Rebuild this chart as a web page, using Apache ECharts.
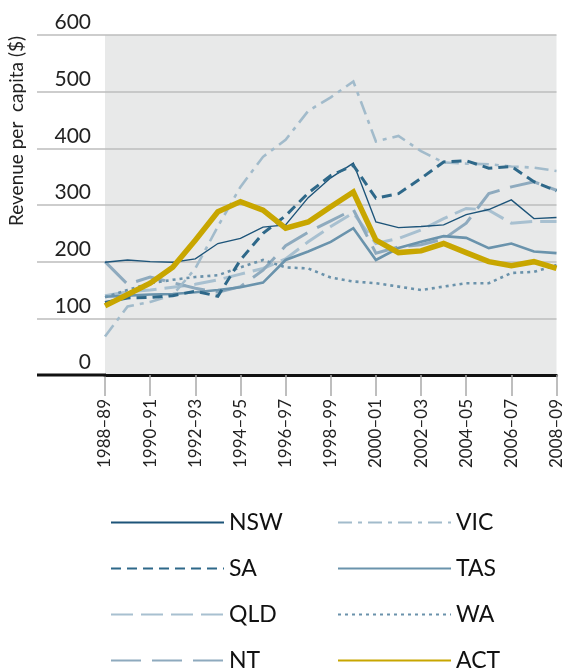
<!DOCTYPE html>
<html>
<head>
<meta charset="utf-8">
<script src="https://cdn.jsdelivr.net/npm/echarts@6/dist/echarts.min.js"></script>
<style>
  html, body { margin: 0; padding: 0; background: #ffffff; }
  #chart { width: 565px; height: 668px; }
</style>
</head>
<body>
<div id="chart"></div>
<script>
// Financial years on the category axis
const years = ['1988–89', '1989–90', '1990–91', '1991–92', '1992–93', '1993–94', '1994–95',
  '1995–96', '1996–97', '1997–98', '1998–99', '1999–00', '2000–01', '2001–02', '2002–03',
  '2003–04', '2004–05', '2005–06', '2006–07', '2007–08', '2008–09'];

// Revenue per capita ($) by state / territory
const nsw = [199, 203, 200, 199, 205, 232, 241, 261, 265, 313, 348, 374, 270, 260, 262, 265, 283, 292, 309, 276, 278];
const vic = [68, 121, 129, 141, 188, 262, 332, 385, 415, 466, 490, 518, 412, 422, 395, 375, 373, 372, 368, 366, 360];
const sa  = [128, 136, 137, 140, 148, 139, 203, 250, 281, 321, 352, 370, 312, 320, 347, 376, 378, 365, 368, 341, 325];
const tas = [138, 140, 142, 143, 146, 150, 155, 163, 203, 218, 235, 259, 203, 224, 235, 245, 242, 224, 232, 218, 215];
const qld = [140, 147, 150, 155, 160, 168, 178, 188, 205, 235, 262, 286, 232, 241, 256, 276, 294, 291, 268, 271, 271];
const wa  = [137, 150, 162, 168, 173, 176, 190, 203, 190, 188, 172, 165, 162, 156, 150, 156, 162, 162, 180, 182, 194];
const nt  = [200, 160, 173, 163, 153, 146, 156, 185, 228, 252, 272, 292, 215, 226, 230, 240, 268, 320, 332, 341, 326];
const act = [122, 142, 162, 190, 238, 288, 306, 291, 259, 270, 297, 323, 238, 216, 219, 232, 216, 200, 193, 200, 188];

// y-axis tick values
const yTicks = { min: 0, max: 600, step: 100 };

const FONT = 'Lato';
const chart = echarts.init(document.getElementById('chart'));

function line(name, data, color, width, type, z) {
  return {
    name: name,
    type: 'line',
    data: data,
    symbol: 'none',
    smooth: false,
    z: z || 2,
    lineStyle: { color: color, width: width, type: type, cap: 'butt', join: 'miter' },
    itemStyle: { color: color },
    emphasis: { disabled: true }
  };
}

const legendText = { fontFamily: FONT, fontSize: 23, lineHeight: 22, color: '#111' };
const legendBase = {
  orient: 'vertical',
  top: 506,
  height: 170,
  itemWidth: 113,
  itemHeight: 22,
  itemGap: 23,
  selectedMode: false,
  itemStyle: { opacity: 0 },
  textStyle: legendText
};

const titleText = {
  type: 'text',
  x: 17, y: 131,
  rotation: Math.PI / 2,
  style: {
    text: 'Revenue per  capita ($)',
    font: '19px ' + FONT,
    fill: '#222',
    align: 'center',
    verticalAlign: 'middle'
  }
};

const option = {
  animation: false,
  backgroundColor: '#ffffff',
  textStyle: { fontFamily: FONT },
  grid: {
    left: 105, right: 6, top: 35, bottom: 293,
    show: true, backgroundColor: '#e8e9e9', borderWidth: 0
  },
  legend: [
    Object.assign({}, legendBase, { left: 105, data: ['NSW', 'SA', 'QLD', 'NT'] }),
    Object.assign({}, legendBase, { left: 332, data: ['VIC', 'TAS', 'WA', 'ACT'] })
  ],
  xAxis: {
    type: 'category',
    data: years,
    boundaryGap: false,
    axisLine: { lineStyle: { color: '#111', width: 3 } },
    axisTick: { interval: 1, length: 21, lineStyle: { color: '#a9a9a9', width: 1.5 } },
    axisLabel: { interval: 1, rotate: 90, fontSize: 17, margin: 24, color: '#222', fontFamily: FONT },
    splitLine: { show: false }
  },
  yAxis: {
    type: 'value',
    min: yTicks.min, max: yTicks.max, interval: yTicks.step,
    axisLine: { show: false },
    axisTick: { show: true, length: 68, lineStyle: { color: '#bdbdbd', width: 1.5 } },
    axisLabel: { fontSize: 21, color: '#222', fontFamily: FONT, verticalAlign: 'bottom', margin: 14, padding: [0, 0, 2, 0] },
    splitLine: { lineStyle: { color: '#bdbdbd', width: 1.5 } }
  },
  series: [
    line('NSW', nsw, '#1d5479', 1.4, 'solid', 3),
    line('SA', sa, '#2e6889', 3, [10, 6], 3),
    line('QLD', qld, '#a8c0d0', 3, [22, 8], 2),
    line('NT', nt, '#8eaabe', 3, [30, 11], 2),
    line('VIC', vic, '#a2bbcb', 2.6, [14, 6, 4, 6], 2),
    line('TAS', tas, '#6a93ac', 2.6, 'solid', 2),
    line('WA', wa, '#6a92ab', 2.6, [3, 4], 2),
    line('ACT', act, '#c8a600', 5.5, 'solid', 5)
  ],
  graphic: [titleText]
};

chart.setOption(option);

// Extend the baseline to the left under the "0" label, like the grid ticks
const y0 = chart.convertToPixel({ yAxisIndex: 0 }, 0);
chart.setOption({
  graphic: [titleText, {
    type: 'line',
    shape: { x1: 105 - 68, y1: y0, x2: 106, y2: y0 },
    style: { stroke: '#111', lineWidth: 3 },
    z: 10
  }]
});
</script>
</body>
</html>
